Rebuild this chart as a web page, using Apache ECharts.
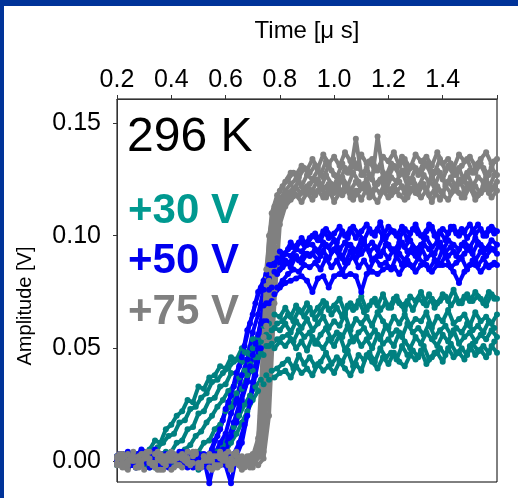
<!DOCTYPE html>
<html>
<head>
<meta charset="utf-8">
<script src="https://cdn.jsdelivr.net/npm/echarts@6/dist/echarts.min.js"></script>
<style>
html,body{margin:0;padding:0;background:#fff;}
#chart{width:518px;height:498px;}
</style>
</head>
<body>
<div id="chart"></div>
<script>
// Time axes (µs): two sampling grids, offset by 0.01 µs
const time = [0.20,0.22,0.24,0.26,0.28,0.30,0.32,0.34,0.36,0.38,0.40,0.42,0.44,0.46,0.48,0.50,0.52,0.54,0.56,0.58,0.60,0.62,0.64,0.66,0.68,0.70,0.72,0.74,0.76,0.78,0.80,0.82,0.84,0.86,0.88,0.90,0.92,0.94,0.96,0.98,1.00,1.02,1.04,1.06,1.08,1.10,1.12,1.14,1.16,1.18,1.20,1.22,1.24,1.26,1.28,1.30,1.32,1.34,1.36,1.38,1.40,1.42,1.44,1.46,1.48,1.50,1.52,1.54,1.56,1.58,1.60];
const timeB = [0.21,0.23,0.25,0.27,0.29,0.31,0.33,0.35,0.37,0.39,0.41,0.43,0.45,0.47,0.49,0.51,0.53,0.55,0.57,0.59,0.61,0.63,0.65,0.67,0.69,0.71,0.73,0.75,0.77,0.79,0.81,0.83,0.85,0.87,0.89,0.91,0.93,0.95,0.97,0.99,1.01,1.03,1.05,1.07,1.09,1.11,1.13,1.15,1.17,1.19,1.21,1.23,1.25,1.27,1.29,1.31,1.33,1.35,1.37,1.39,1.41,1.43,1.45,1.47,1.49,1.51,1.53,1.55,1.57,1.59];

// +30 V traces (V)
const teal1 = [0.001,-0.002,0.003,0.000,-0.001,0.002,
0.005,0.009,0.008,0.014,0.016,0.020,0.022,0.027,0.026,0.033,0.032,0.037,0.038,0.042,0.041,0.046,0.045,0.050,0.048,0.054,0.055,0.060,0.061,0.065,0.064,
0.068,0.064,0.069,0.066,0.070,0.065,0.068,0.071,0.067,0.069,0.072,0.066,0.070,0.068,0.073,0.067,0.071,0.069,0.074,0.068,0.072,0.070,0.067,0.073,0.071,0.075,0.069,0.072,0.070,0.074,0.071,0.076,0.070,0.073,0.071,0.075,0.072,0.069,0.074,0.072];
const teal2 = [-0.002,0.001,0.003,-0.001,0.000,0.002,-0.003,0.001,0.002,0.000,
0.004,0.008,0.009,0.014,0.015,0.021,0.022,0.027,0.028,0.033,0.034,0.039,0.039,0.044,0.045,0.050,0.051,0.055,0.055,0.059,0.058,
0.061,0.057,0.062,0.059,0.063,0.058,0.061,0.064,0.059,0.062,0.060,0.065,0.058,0.063,0.061,0.064,0.060,0.066,0.062,0.059,0.064,0.061,0.065,0.060,0.063,0.062,0.066,0.059,0.064,0.062,0.067,0.061,0.063,0.065,0.060,0.066,0.062,0.064,0.061,0.065];
const teal3 = [0.002,0.000,-0.003,0.001,0.003,-0.002,0.000,0.002,-0.001,0.004,-0.002,0.001,0.000,-0.001,0.002,
0.004,0.008,0.009,0.014,0.016,0.022,0.024,0.030,0.032,0.038,0.040,0.046,0.047,0.051,0.050,0.053,
0.051,0.054,0.050,0.053,0.049,0.055,0.052,0.050,0.054,0.051,0.056,0.049,0.053,0.055,0.051,0.054,0.050,0.056,0.052,0.054,0.051,0.057,0.053,0.050,0.055,0.052,0.057,0.054,0.051,0.056,0.053,0.058,0.052,0.055,0.057,0.053,0.056,0.054,0.058,0.055];
const teal4 = [0.000,0.003,-0.002,0.001,-0.001,0.002,0.000,-0.003,0.001,0.003,-0.001,0.000,0.002,-0.002,0.001,-0.004,0.002,0.000,-0.001,0.001,
0.004,0.008,0.012,0.017,0.022,0.027,0.031,0.034,0.036,0.037,0.039,
0.040,0.037,0.042,0.039,0.041,0.038,0.043,0.040,0.042,0.039,0.044,0.041,0.038,0.043,0.040,0.047,0.044,0.041,0.046,0.043,0.048,0.044,0.042,0.047,0.045,0.049,0.043,0.046,0.048,0.044,0.050,0.046,0.048,0.045,0.051,0.047,0.049,0.046,0.051,0.048];
const teal5 = [0.000,0.002,-0.001,0.003,-0.002,0.001,0.000,
0.006,0.008,0.011,0.012,0.017,0.018,0.023,0.024,0.028,0.030,0.035,0.036,0.039,0.041,0.044,0.045,0.048,0.047,0.051,0.053,0.056,0.058,0.061,0.062,
0.065,0.062,0.067,0.064,0.068,0.063,0.066,0.070,0.065,0.068,0.064,0.069,0.067,0.071,0.066,0.069,0.072,0.067,0.070,0.068,0.073,0.069,0.071,0.067,0.072,0.070,0.074,0.068,0.071,0.073,0.069,0.072,0.070,0.074,0.071,0.073,0.070,0.075,0.072];
const teal6 = [0.001,-0.002,0.002,0.000,-0.001,0.003,-0.002,0.001,0.000,0.002,-0.001,0.001,
0.005,0.007,0.011,0.013,0.017,0.020,0.024,0.027,0.031,0.033,0.037,0.040,0.043,0.046,0.048,0.051,0.052,0.054,0.055,
0.056,0.053,0.058,0.055,0.057,0.052,0.056,0.059,0.054,0.057,0.055,0.060,0.053,0.057,0.059,0.055,0.058,0.054,0.060,0.056,0.058,0.055,0.061,0.057,0.059,0.056,0.061,0.055,0.058,0.060,0.056,0.059,0.057,0.061,0.058,0.060,0.057,0.062,0.059];
const teal7 = [-0.001,0.002,0.000,-0.003,0.001,0.002,-0.002,0.000,0.003,-0.001,0.001,-0.002,0.002,0.000,-0.001,0.003,-0.002,0.001,
0.004,0.007,0.011,0.015,0.020,0.025,0.029,0.033,0.036,0.038,0.040,0.041,0.043,
0.045,0.041,0.047,0.043,0.046,0.042,0.044,0.048,0.043,0.046,0.044,0.049,0.042,0.047,0.045,0.048,0.044,0.050,0.046,0.048,0.045,0.051,0.047,0.049,0.046,0.051,0.045,0.048,0.050,0.047,0.052,0.048,0.050,0.047,0.052,0.049,0.051,0.048,0.053];

// +50 V traces (V)
const blue1 = [0.002,-0.001,0.004,0.001,-0.002,0.003,0.000,0.005,-0.001,0.002,-0.003,0.001,0.004,0.000,0.002,-0.002,0.003,
0.003,0.009,0.014,0.023,0.029,0.039,0.046,0.058,0.065,0.075,0.080,0.087,0.088,0.093,0.092,0.097,0.094,0.099,0.096,
0.100,0.098,0.102,0.099,0.101,0.104,0.100,0.103,0.099,0.102,0.105,0.101,0.103,0.100,0.104,0.102,0.099,0.103,0.101,0.105,0.100,0.102,0.104,0.099,0.103,0.101,0.104,0.100,0.102,0.105,0.101,0.103,0.100,0.104,0.102];
const blue2 = [-0.001,0.003,0.000,-0.002,0.002,0.004,-0.003,0.001,0.003,-0.001,0.000,0.002,-0.002,0.004,0.001,-0.001,0.002,0.000,
0.003,0.008,0.012,0.021,0.027,0.038,0.045,0.057,0.065,0.076,0.081,0.087,0.088,0.092,0.091,0.094,0.093,0.096,
0.096,0.093,0.097,0.095,0.098,0.094,0.097,0.096,0.093,0.098,0.095,0.097,0.094,0.099,0.096,0.093,0.097,0.095,0.098,0.094,0.096,0.099,0.095,0.097,0.093,0.098,0.096,0.094,0.097,0.095,0.099,0.096,0.094,0.098,0.096];
const blue3 = [0.001,-0.002,0.002,0.000,0.003,-0.001,0.001,0.004,-0.002,0.000,0.003,-0.001,0.002,0.000,-0.003,0.002,0.001,-0.010,0.001,-0.002,
0.004,0.011,0.017,0.027,0.035,0.047,0.056,0.069,0.076,0.084,0.085,0.089,0.086,0.091,0.088,0.092,
0.092,0.089,0.093,0.090,0.094,0.091,0.088,0.093,0.090,0.092,0.095,0.089,0.091,0.093,0.090,0.094,0.092,0.089,0.093,0.091,0.095,0.090,0.092,0.088,0.094,0.091,0.093,0.090,0.092,0.095,0.089,0.093,0.091,0.094,0.092];
const blue4 = [0.000,0.002,-0.003,0.001,0.003,-0.001,0.002,0.000,-0.002,0.003,0.001,-0.001,0.002,-0.003,0.000,0.003,-0.001,0.002,0.000,0.001,-0.002,-0.010,
0.002,0.008,0.020,0.035,0.050,0.062,0.070,0.074,0.077,0.079,0.080,0.081,0.082,0.080,
0.075,0.081,0.082,0.077,0.082,0.083,0.082,0.083,0.082,0.075,0.083,0.084,0.083,0.085,0.086,0.086,0.083,0.087,0.087,0.084,0.087,0.087,0.084,0.087,0.087,0.087,0.084,0.079,0.084,0.087,0.087,0.084,0.087,0.087,0.087];
const blue5 = [0.003,0.000,-0.002,0.002,0.005,0.001,-0.001,0.003,0.000,-0.003,0.002,0.004,-0.001,0.001,0.003,0.000,-0.002,
0.005,0.011,0.018,0.026,0.033,0.042,0.051,0.061,0.070,0.077,0.083,0.087,0.090,0.091,0.094,0.095,0.097,0.096,0.099,
0.101,0.098,0.103,0.100,0.097,0.102,0.099,0.104,0.101,0.098,0.103,0.100,0.106,0.099,0.102,0.100,0.104,0.098,0.103,0.101,0.099,0.105,0.100,0.102,0.098,0.104,0.101,0.103,0.099,0.102,0.105,0.100,0.103,0.101];
const blue6 = [0.000,-0.002,0.003,0.001,-0.001,0.002,0.004,0.000,-0.003,0.001,0.002,-0.001,0.003,0.000,-0.002,0.002,0.001,-0.001,0.003,
0.005,0.010,0.017,0.025,0.033,0.042,0.052,0.061,0.070,0.077,0.083,0.086,0.088,0.090,0.089,0.092,0.091,
0.094,0.091,0.096,0.093,0.095,0.090,0.096,0.094,0.092,0.097,0.093,0.095,0.091,0.096,0.094,0.092,0.097,0.093,0.095,0.090,0.096,0.094,0.092,0.097,0.093,0.095,0.091,0.096,0.094,0.092,0.097,0.093,0.095,0.094];
const blue7 = [0.002,-0.001,0.001,-0.003,0.000,0.003,-0.002,0.001,0.002,-0.001,0.000,0.003,-0.002,0.001,0.000,-0.003,0.002,0.001,-0.001,0.000,0.002,
0.003,0.008,0.016,0.026,0.038,0.050,0.062,0.071,0.077,0.080,0.083,0.085,0.084,0.087,0.086,
0.088,0.085,0.090,0.086,0.089,0.084,0.088,0.091,0.086,0.089,0.085,0.090,0.087,0.088,0.085,0.091,0.087,0.089,0.086,0.090,0.088,0.085,0.089,0.087,0.091,0.086,0.088,0.090,0.085,0.089,0.087,0.090,0.086,0.088];

// +75 V traces (V)
const gray1 = [0.002,-0.001,0.003,0.000,-0.003,0.001,0.004,-0.002,0.000,0.002,-0.004,0.001,0.003,-0.001,0.002,-0.002,0.000,0.003,-0.003,0.001,0.002,-0.001,0.004,0.000,-0.002,
0.002,0.010,0.055,0.100,0.113,0.120,0.124,0.128,0.127,0.131,0.129,
0.134,0.130,0.136,0.132,0.135,0.131,0.137,0.133,0.130,0.136,0.132,0.134,0.129,0.135,0.133,0.137,0.131,0.134,0.130,0.136,0.133,0.135,0.131,0.137,0.132,0.134,0.130,0.136,0.133,0.135,0.131,0.134,0.137,0.132,0.134];
const gray2 = [-0.002,0.001,-0.004,0.002,0.000,0.003,-0.001,-0.003,0.002,0.000,0.004,-0.002,0.001,-0.001,0.003,-0.003,0.002,0.000,-0.002,0.004,0.001,-0.003,0.000,0.002,-0.001,0.003,
0.003,0.030,0.080,0.108,0.116,0.120,0.123,0.125,0.122,0.127,
0.125,0.129,0.126,0.131,0.127,0.124,0.130,0.128,0.143,0.127,0.130,0.125,0.144,0.128,0.126,0.131,0.127,0.129,0.124,0.130,0.128,0.132,0.126,0.129,0.125,0.131,0.127,0.130,0.124,0.129,0.128,0.132,0.126,0.130,0.127];
const gray3 = [0.001,-0.003,0.000,0.004,-0.002,0.002,-0.001,0.003,-0.004,0.000,0.002,-0.002,0.001,0.004,-0.001,-0.003,0.002,0.001,-0.002,0.003,0.000,-0.004,0.002,-0.001,0.001,-0.003,0.003,
0.004,0.045,0.095,0.110,0.115,0.118,0.121,0.119,0.122,
0.120,0.125,0.121,0.123,0.119,0.126,0.122,0.120,0.124,0.121,0.125,0.118,0.123,0.126,0.120,0.122,0.124,0.119,0.125,0.121,0.123,0.120,0.126,0.122,0.119,0.124,0.121,0.125,0.120,0.123,0.122,0.119,0.125,0.121,0.124];
const gray4 = [-0.001,0.003,-0.002,0.000,0.002,-0.004,0.001,-0.001,0.003,-0.002,0.000,0.002,-0.003,0.001,0.004,-0.001,0.000,-0.003,0.002,-0.002,0.003,0.001,-0.001,-0.004,0.002,0.000,-0.002,
0.001,0.020,0.070,0.105,0.113,0.116,0.118,0.115,0.119,
0.116,0.120,0.117,0.121,0.115,0.119,0.122,0.117,0.120,0.116,0.121,0.118,0.115,0.120,0.117,0.122,0.118,0.116,0.121,0.119,0.117,0.120,0.115,0.121,0.118,0.116,0.120,0.119,0.117,0.122,0.116,0.119,0.121,0.117,0.120];
const gray5 = [0.001,-0.003,0.002,0.000,-0.002,0.004,-0.001,0.001,-0.004,0.003,0.000,-0.002,0.002,-0.001,0.003,-0.003,0.001,0.000,-0.002,0.002,0.004,-0.001,0.000,-0.003,0.002,0.001,
0.020,0.085,0.110,0.118,0.122,0.125,0.128,0.126,0.130,0.128,
0.131,0.127,0.133,0.129,0.126,0.132,0.128,0.134,0.130,0.127,0.133,0.129,0.131,0.126,0.132,0.130,0.135,0.128,0.131,0.127,0.133,0.130,0.128,0.134,0.129,0.132,0.127,0.131,0.134,0.128,0.132,0.130,0.127,0.133];
const gray6 = [-0.002,0.002,0.000,-0.003,0.003,0.001,-0.001,-0.004,0.002,0.000,0.003,-0.002,0.001,-0.001,0.004,-0.002,0.000,0.002,-0.003,0.001,-0.001,0.003,-0.002,0.000,0.002,-0.001,
0.008,0.060,0.100,0.112,0.117,0.119,0.121,0.124,0.120,0.123,
0.125,0.121,0.127,0.123,0.120,0.126,0.122,0.128,0.124,0.121,0.127,0.123,0.125,0.120,0.126,0.124,0.129,0.122,0.125,0.121,0.127,0.124,0.122,0.128,0.123,0.126,0.121,0.125,0.128,0.122,0.126,0.124,0.121,0.127];
const gray7 = [0.003,-0.001,0.001,-0.003,0.000,0.002,-0.002,0.004,-0.001,0.001,-0.003,0.002,0.000,-0.002,0.003,-0.001,0.001,-0.004,0.002,0.000,-0.002,0.003,-0.001,0.001,-0.003,0.000,0.002,
0.030,0.090,0.108,0.114,0.117,0.119,0.118,0.121,0.119,
0.118,0.122,0.117,0.120,0.124,0.118,0.121,0.116,0.120,0.123,0.117,0.121,0.119,0.124,0.118,0.120,0.122,0.117,0.121,0.119,0.123,0.118,0.120,0.116,0.122,0.119,0.121,0.117,0.123,0.120,0.118,0.122,0.119,0.121];

// Axis ticks
const xTicks = [0.2,0.4,0.6,0.8,1.0,1.2,1.4];
const yTicks = [0.00,0.05,0.10,0.15];

const groups = [
  {name:'+30 V', color:'#008080', traces:[[time,teal4],[timeB,teal7],[time,teal3],[timeB,teal6],[time,teal2],[timeB,teal5],[time,teal1]]},
  {name:'+50 V', color:'#0000ff', traces:[[time,blue4],[timeB,blue7],[time,blue3],[timeB,blue6],[time,blue2],[timeB,blue5],[time,blue1]]},
  {name:'+75 V', color:'#808080', traces:[[time,gray4],[timeB,gray7],[time,gray3],[timeB,gray6],[time,gray2],[timeB,gray5],[time,gray1]]}
];

const FONT = '"Liberation Sans", Arial, sans-serif';
const series = [];
groups.forEach(g => {
  g.traces.forEach(([tt, tr]) => {
    series.push({
      type:'line',
      data: tt.map((t,i)=>[t, tr[i]]),
      symbol:'circle',
      symbolSize:6,
      showSymbol:true,
      clip:false,
      silent:true,
      animation:false,
      itemStyle:{color:g.color},
      lineStyle:{color:g.color, width:4}
    });
  });
});

const chart = echarts.init(document.getElementById('chart'), null, {renderer:'canvas'});
chart.setOption({
  animation:false,
  backgroundColor:'#fff',
  grid:{left:117, top:99, width:380, height:383, show:true, borderColor:'#000', borderWidth:1, backgroundColor:'#fff'},
  xAxis:{
    type:'value', position:'top', min:0.2, max:1.6, interval:0.2,
    axisLine:{show:true, onZero:false, lineStyle:{color:'#333', width:1}},
    axisTick:{show:true, inside:false, length:4, lineStyle:{color:'#333'}},
    axisLabel:{fontSize:25, color:'#000', margin:6, fontFamily:FONT,
      formatter: v => xTicks.some(t => Math.abs(t - v) < 1e-6) ? v.toFixed(1) : ''},
    splitLine:{show:false}
  },
  yAxis:{
    type:'value', min:-0.0094, max:0.1607,
    axisLine:{show:true, onZero:false, lineStyle:{color:'#333', width:1}},
    axisTick:{show:true, inside:false, length:4, customValues:yTicks, lineStyle:{color:'#333'}},
    axisLabel:{fontSize:25, color:'#000', margin:16, fontFamily:FONT, customValues:yTicks,
      formatter: v => v.toFixed(2)},
    splitLine:{show:false}
  },
  graphic:[
    {type:'rect', shape:{x:0,y:0,width:518,height:6}, style:{fill:'#003399'}, z:100},
    {type:'rect', shape:{x:0,y:0,width:4,height:498}, style:{fill:'#003399'}, z:100},
    {type:'text', x:307, y:31, style:{text:'Time [\u03bc s]', font:'24px '+FONT, fill:'#000', align:'center', verticalAlign:'middle'}, z:100},
    {type:'text', x:25, y:306, rotation:Math.PI/2, style:{text:'Amplitude [V]', font:'20px '+FONT, fill:'#000', align:'center', verticalAlign:'middle'}, z:100},
    {type:'text', x:127, y:138, style:{text:'296 K', font:'48px '+FONT, fill:'#000', align:'left', verticalAlign:'middle'}, z:100},
    {type:'text', x:128, y:211, style:{text:'+30 V', font:'bold 42px '+FONT, fill:'#009990', align:'left', verticalAlign:'middle'}, z:100},
    {type:'text', x:128, y:261, style:{text:'+50 V', font:'bold 42px '+FONT, fill:'#0000ee', align:'left', verticalAlign:'middle'}, z:100},
    {type:'text', x:128, y:312, style:{text:'+75 V', font:'bold 42px '+FONT, fill:'#808080', align:'left', verticalAlign:'middle'}, z:100}
  ],
  series: series
});
</script>
</body>
</html>
